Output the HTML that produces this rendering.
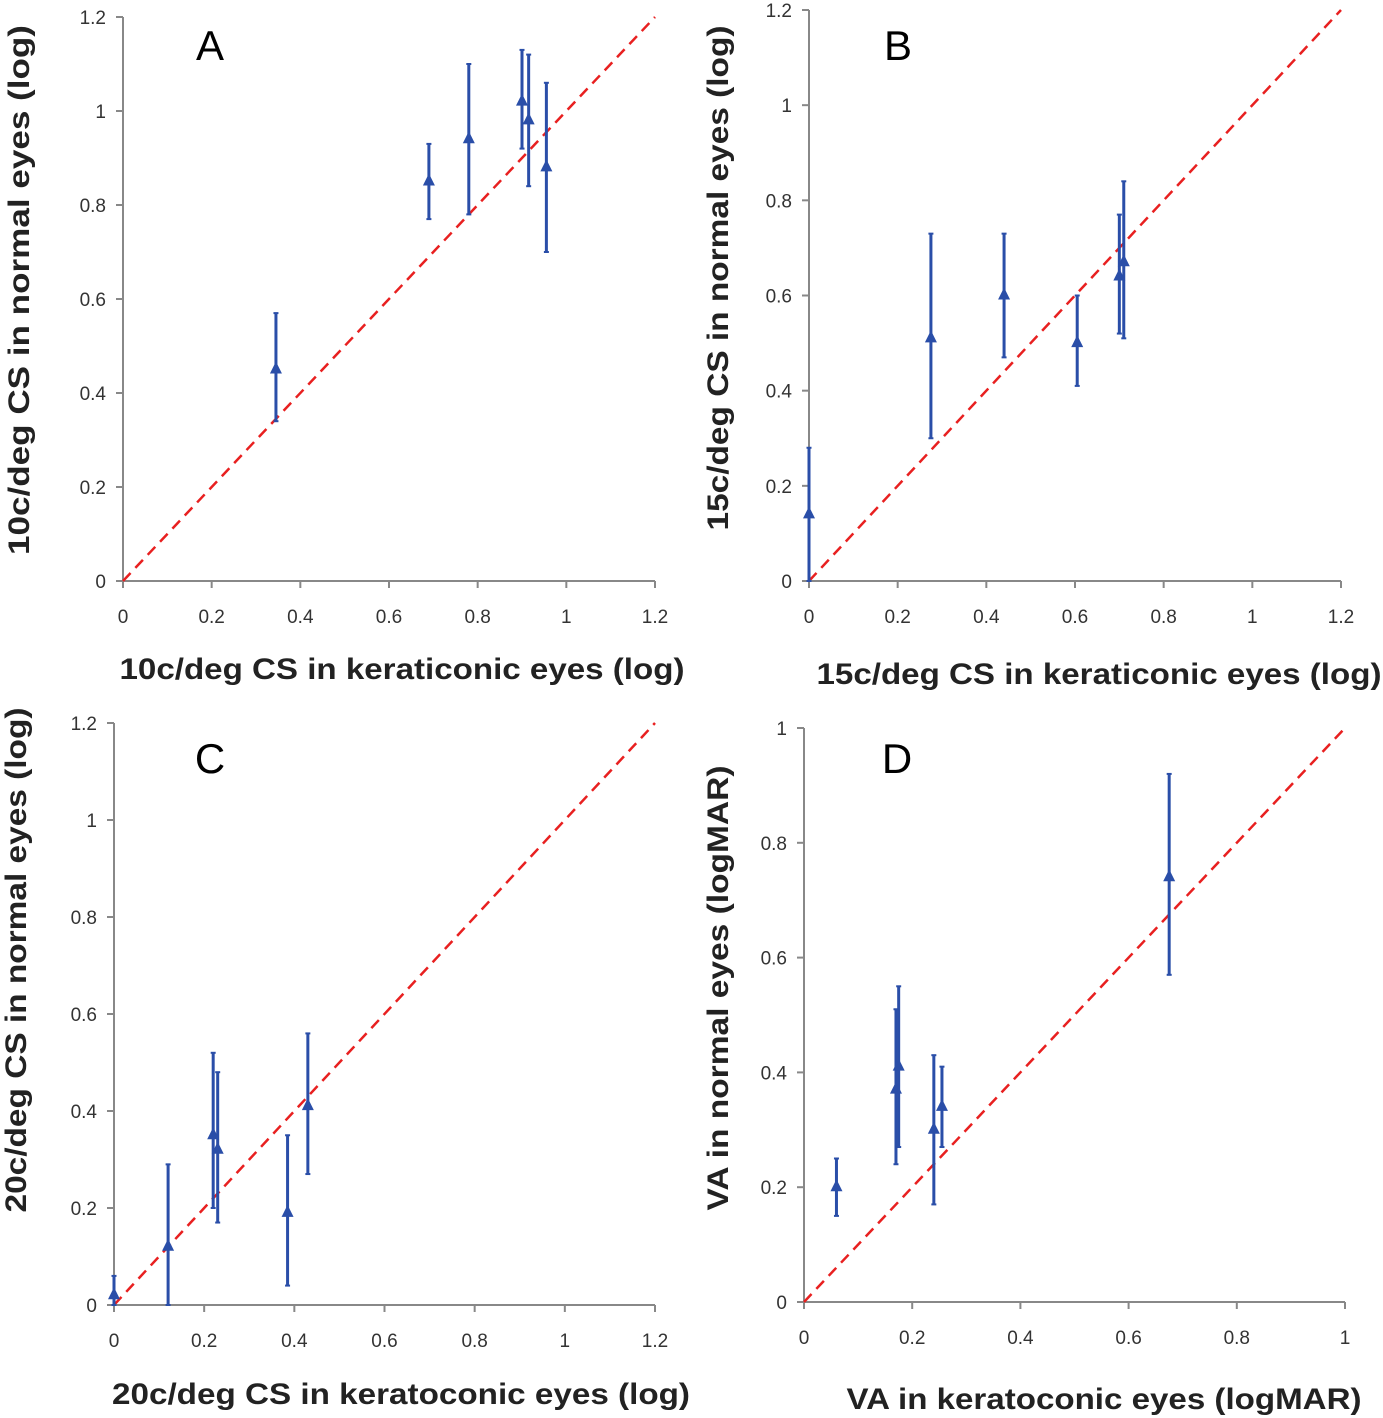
<!DOCTYPE html>
<html><head><meta charset="utf-8"><style>
body{margin:0;background:#fff;}
svg{display:block;font-family:"Liberation Sans",sans-serif;}
</style></head><body>
<svg id="fig" width="1383" height="1418" viewBox="0 0 1383 1418"></svg>
<script>
const catA=[0.345,0.69,0.78,0.90,0.915,0.955];
const valA=[0.45,0.85,0.94,1.02,0.98,0.88];
const loA=[0.34,0.77,0.78,0.92,0.84,0.70];
const hiA=[0.57,0.93,1.10,1.13,1.12,1.06];
const catB=[0,0.275,0.44,0.605,0.70,0.71];
const valB=[0.14,0.51,0.60,0.50,0.64,0.67];
const loB=[0,0.30,0.47,0.41,0.52,0.51];
const hiB=[0.28,0.73,0.73,0.60,0.77,0.84];
const catC=[0,0.12,0.22,0.23,0.385,0.43];
const valC=[0.02,0.12,0.35,0.32,0.19,0.41];
const loC=[0,0,0.20,0.17,0.04,0.27];
const hiC=[0.06,0.29,0.52,0.48,0.35,0.56];
const catD=[0.06,0.17,0.175,0.24,0.255,0.675];
const valD=[0.20,0.37,0.41,0.30,0.34,0.74];
const loD=[0.15,0.24,0.27,0.17,0.27,0.57];
const hiD=[0.25,0.51,0.55,0.43,0.41,0.92];
const ticks12=["0","0.2","0.4","0.6","0.8","1","1.2"];
const ticks1=["0","0.2","0.4","0.6","0.8","1"];

const NS="http://www.w3.org/2000/svg";
const svg=document.getElementById('fig');
function mk(tag,attrs,parent){const e=document.createElementNS(NS,tag);for(const k in attrs)e.setAttribute(k,attrs[k]);(parent||svg).appendChild(e);return e;}

const panels=[
 {id:'a',letter:'A',x0:123,x1:655,y0:581,y1:17,max:1.2,ticks:ticks12,cat:catA,val:valA,lo:loA,hi:hiA,lx:210,ly:60,
  xt:"10c/deg CS in keraticonic eyes (log)",xtx:402,xty:679,xl:565,yt:"10c/deg CS in normal eyes (log)",ytx:29,yty:290,yl:530},
 {id:'b',letter:'B',x0:809,x1:1341,y0:581,y1:10,max:1.2,ticks:ticks12,cat:catB,val:valB,lo:loB,hi:hiB,lx:898,ly:60,
  xt:"15c/deg CS in keraticonic eyes (log)",xtx:1099,xty:684,xl:565,yt:"15c/deg CS in normal eyes (log)",ytx:728,yty:278,yl:505},
 {id:'c',letter:'C',x0:114,x1:655,y0:1305,y1:723,max:1.2,ticks:ticks12,cat:catC,val:valC,lo:loC,hi:hiC,lx:210,ly:773,
  xt:"20c/deg CS in keratoconic eyes (log)",xtx:401,xty:1404,xl:578,yt:"20c/deg CS in normal eyes (log)",ytx:26,yty:960,yl:505},
 {id:'d',letter:'D',x0:804,x1:1345,y0:1302,y1:728,max:1,ticks:ticks1,cat:catD,val:valD,lo:loD,hi:hiD,lx:897,ly:773,
  xt:"VA in keratoconic eyes (logMAR)",xtx:1104,xty:1409,xl:515,yt:"VA in normal eyes (logMAR)",ytx:728,yty:988,yl:445}
];

panels.forEach(p=>{
  const g=mk('g',{});
  
  
  const sx=v=>p.x0+(p.x1-p.x0)*v/p.max;
  const sy=v=>p.y0-(p.y0-p.y1)*v/p.max;
  const xa=mk('line',{x1:p.x0,y1:p.y0,x2:p.x1,y2:p.y0,stroke:'#888','stroke-width':2},g);
  
  
  const ya=mk('line',{x1:p.x0,y1:p.y0,x2:p.x0,y2:p.y1,stroke:'#888','stroke-width':2},g);
  
  
  p.ticks.forEach(t=>{
    const v=parseFloat(t);
    mk('line',{x1:sx(v),y1:p.y0,x2:sx(v),y2:p.y0+7,stroke:'#888','stroke-width':2},g);
    mk('line',{x1:p.x0-7,y1:sy(v),x2:p.x0,y2:sy(v),stroke:'#888','stroke-width':2},g);
    const tx=mk('text',{x:sx(v),y:p.y0+42,'text-anchor':'middle','font-size':19,fill:'#333'},g);
    tx.textContent=t;
    
    
    const ty=mk('text',{x:p.x0-17,y:sy(v)+7,'text-anchor':'end','font-size':19,fill:'#333'},g);
    ty.textContent=t;
    
    
  });
  const dl=mk('line',{x1:sx(0),y1:sy(0),x2:sx(p.max),y2:sy(p.max),stroke:'#e82020','stroke-width':2.5,'stroke-dasharray':'11,7'},g);
  
  
  p.cat.forEach((c,i)=>{
    const x=sx(c);
    const eb=mk('line',{x1:x,y1:sy(p.lo[i]),x2:x,y2:sy(p.hi[i]),stroke:'#2a4ea8','stroke-width':3},g);
    
    
    mk('line',{x1:x-2.5,y1:sy(p.lo[i]),x2:x+2.5,y2:sy(p.lo[i]),stroke:'#2a4ea8','stroke-width':2},g);
    mk('line',{x1:x-2.5,y1:sy(p.hi[i]),x2:x+2.5,y2:sy(p.hi[i]),stroke:'#2a4ea8','stroke-width':2},g);
    const y=sy(p.val[i]);
    const pt=mk('polygon',{points:`${x},${y-8} ${x-6},${y+4} ${x+6},${y+4}`,fill:'#2a4ea8'},g);
    
    
  });
  const L=mk('text',{x:p.lx,y:p.ly,'text-anchor':'middle','font-size':42,fill:'#000'},g);
  L.textContent=p.letter;
  
  
  const xt=mk('text',{x:p.xtx,y:p.xty,'text-anchor':'middle','font-size':30,'font-weight':'bold',fill:'#222',textLength:p.xl,lengthAdjust:'spacingAndGlyphs'},g);
  xt.textContent=p.xt;
  
  
  const yt=mk('text',{x:p.ytx,y:p.yty,'text-anchor':'middle','font-size':30,'font-weight':'bold',fill:'#222',textLength:p.yl,lengthAdjust:'spacingAndGlyphs',transform:`rotate(-90 ${p.ytx} ${p.yty})`},g);
  yt.textContent=p.yt;
  
  
});
</script>
</body></html>
